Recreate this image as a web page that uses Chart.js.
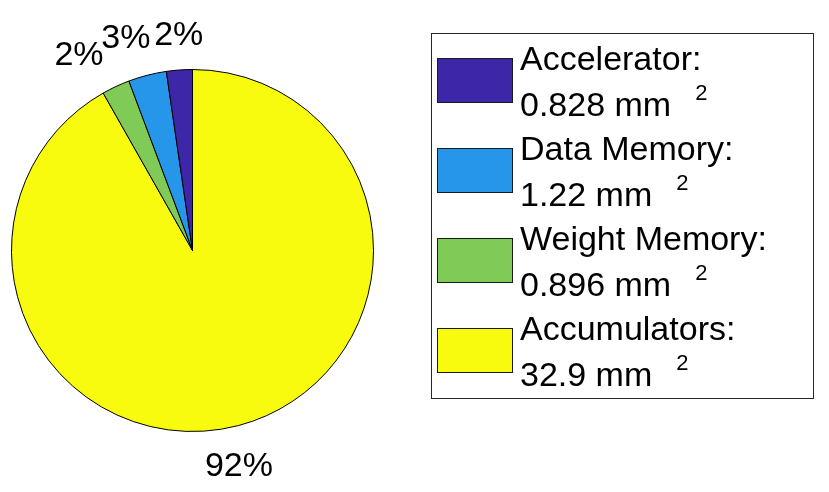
<!DOCTYPE html>
<html>
<head>
<meta charset="utf-8">
<script src="https://cdn.jsdelivr.net/npm/chart.js@4/dist/chart.umd.min.js"></script>
<style>
  html, body { margin: 0; padding: 0; background: #ffffff; }
  canvas { display: block; }
</style>
</head>
<body>
<canvas id="c" width="829" height="492"></canvas>
<script>
// ---- data (legend order) ----
const categories = ['Accelerator', 'Data Memory', 'Weight Memory', 'Accumulators'];
const areaValues = [0.828, 1.22, 0.896, 32.9];   // mm^2
const unitLabel = 'mm';
const unitExponent = '2';
const sliceColors = ['#3E26A8', '#2696EB', '#80CB58', '#F9FB0E'];

const total = areaValues.reduce((a, b) => a + b, 0);
const percentLabels = areaValues.map(v => Math.round(v / total * 100) + '%');

// MATLAB draws counter-clockwise from the top; Chart.js goes clockwise,
// so feed the slices in reverse order.
const order = categories.map((_, i) => i).reverse();

const FONT = '"Liberation Sans", Arial, Helvetica, sans-serif';

const pieLabelPlugin = {
  id: 'pieLabels',
  afterDatasetsDraw(chart, args, opts) {
    const ctx = chart.ctx;
    const meta = chart.getDatasetMeta(0);
    ctx.save();
    ctx.font = '34px ' + FONT;
    ctx.fillStyle = '#000';
    ctx.textAlign = 'center';
    ctx.textBaseline = 'alphabetic';
    meta.data.forEach((arc, k) => {
      const idx = order[k];
      const p = arc.getProps(['x', 'y', 'startAngle', 'endAngle', 'outerRadius'], true);
      const mid = (p.startAngle + p.endAngle) / 2;
      const r = p.outerRadius * 1.2;
      const n = opts.nudge[categories[idx]] || [0, 0];
      const x = p.x + Math.cos(mid) * r + n[0];
      const y = p.y + Math.sin(mid) * r + 12 + n[1];
      ctx.fillText(percentLabels[idx], x, y);
    });
    ctx.restore();
  }
};

const boxLegendPlugin = {
  id: 'boxLegend',
  afterDraw(chart, args, o) {
    const ctx = chart.ctx;
    ctx.save();
    // frame
    ctx.strokeStyle = '#262626';
    ctx.lineWidth = 1;
    ctx.strokeRect(o.left + 0.5, o.top + 0.5, o.width, o.height);
    categories.forEach((name, i) => {
      const y0 = o.firstSwatchTop + i * o.step;
      ctx.fillStyle = sliceColors[i];
      ctx.fillRect(o.swatchLeft, y0, o.swatchW, o.swatchH);
      ctx.strokeStyle = '#1a1a1a';
      ctx.strokeRect(o.swatchLeft + 0.5, y0 + 0.5, o.swatchW, o.swatchH);
      ctx.fillStyle = '#000';
      ctx.textAlign = 'left';
      ctx.textBaseline = 'alphabetic';
      ctx.font = '34px ' + FONT;
      const b1 = o.firstBaseline + i * o.step;
      ctx.fillText(name + ':', o.textLeft, b1);
      const line2 = areaValues[i] + ' ' + unitLabel;
      ctx.fillText(line2, o.textLeft, b1 + o.lineGap);
      const w2 = ctx.measureText(line2).width;
      ctx.font = '22px ' + FONT;
      ctx.fillText(unitExponent, o.textLeft + w2 + o.supGap, b1 + o.lineGap - o.supRise);
    });
    ctx.restore();
  }
};

new Chart(document.getElementById('c'), {
  type: 'pie',
  data: {
    labels: order.map(i => categories[i]),
    datasets: [{
      data: order.map(i => areaValues[i]),
      backgroundColor: order.map(i => sliceColors[i]),
      borderColor: '#000000',
      borderWidth: 1
    }]
  },
  options: {
    responsive: false,
    animation: false,
    events: [],
    layout: { padding: { left: 11, top: 69, right: 455, bottom: 60 } },
    plugins: {
      legend: { display: false },
      tooltip: { enabled: false },
      pieLabels: {
        nudge: {
          'Accelerator': [2, -1],
          'Data Memory': [-12.5, -4],
          'Weight Memory': [-21.5, -0.5],
          'Accumulators': [-9, 3.5]
        }
      },
      boxLegend: {
        left: 431, top: 33, width: 382, height: 365,
        swatchLeft: 437, swatchW: 75, swatchH: 44,
        firstSwatchTop: 58, step: 90,
        textLeft: 520, firstBaseline: 69.5, lineGap: 46.5,
        supGap: 24, supRise: 16.5
      }
    }
  },
  plugins: [pieLabelPlugin, boxLegendPlugin]
});
</script>
</body>
</html>
